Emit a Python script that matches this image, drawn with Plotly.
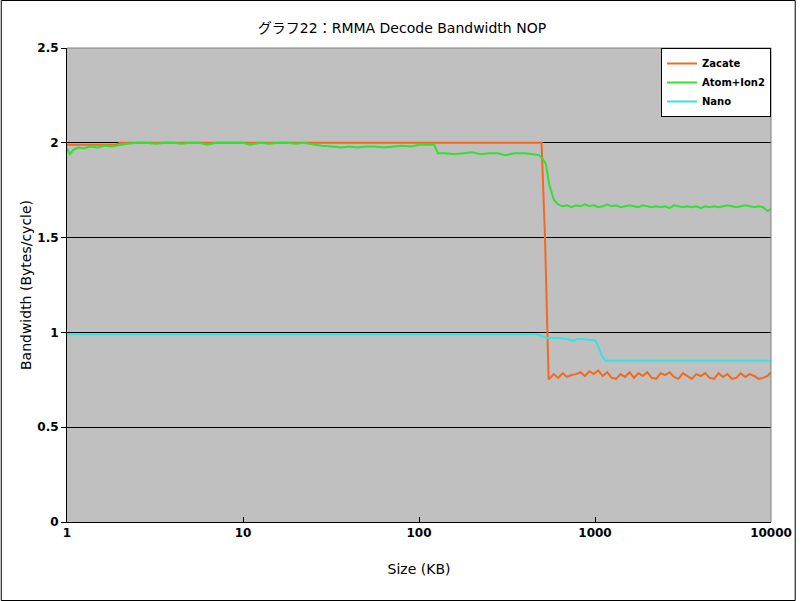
import plotly.graph_objects as go

# ---------------- data ----------------
TITLE = "グラフ22：RMMA Decode Bandwidth NOP"
X_TITLE = "Size (KB)"
Y_TITLE = "Bandwidth (Bytes/cycle)"
X_TICKS = [1, 10, 100, 1000, 10000]
X_TICK_TEXT = ["1", "10", "100", "1000", "10000"]
Y_TICKS = [0, 0.5, 1, 1.5, 2, 2.5]
Y_TICK_TEXT = ["0", "0.5", "1", "1.5", "2", "2.5"]

zacate_x = [1, 1.9, 2.0, 10, 100, 497, 520, 535, 545,
            550, 583, 618, 655, 694, 736, 780, 827, 877, 929,
            985, 1044, 1107, 1173, 1244, 1318, 1397, 1481, 1570, 1664,
            1764, 1870, 1982, 2101, 2227, 2360, 2502, 2652, 2811, 2980,
            3159, 3348, 3549, 3762, 3988, 4227, 4481, 4750, 5035, 5337,
            5657, 5996, 6356, 6737, 7142, 7570, 8025, 8506, 9017, 9558, 10000]
zacate_y = [1.99, 1.99, 2.0, 2.0, 2.0, 2.0, 1.5, 1.0, 0.755,
            0.755, 0.78, 0.76, 0.785, 0.765, 0.775, 0.78, 0.79, 0.77, 0.795,
            0.78, 0.80, 0.77, 0.79, 0.76, 0.755, 0.78, 0.765, 0.79, 0.76,
            0.785, 0.77, 0.79, 0.76, 0.755, 0.785, 0.775, 0.79, 0.765, 0.755,
            0.785, 0.77, 0.755, 0.78, 0.77, 0.785, 0.76, 0.755, 0.785, 0.765,
            0.78, 0.755, 0.76, 0.785, 0.765, 0.78, 0.77, 0.755, 0.76, 0.77, 0.79]

atom_x = [1, 1.04, 1.08, 1.15, 1.25, 1.35, 1.5, 1.65, 1.8, 2.0,
          2.2, 2.5, 2.8, 3.2, 3.6, 4, 4.5, 5, 5.6, 6.3,
          7, 8, 9, 10, 11, 12.5, 14, 16, 18, 20,
          22, 25, 28, 32, 36, 40, 45, 50, 56, 63,
          70, 80, 90, 100, 110, 118, 122, 128, 140, 160,
          180, 200, 225, 250, 280, 310, 350, 400, 440, 480,
          500, 525, 550, 583, 618, 655, 694, 736, 780, 827,
          877, 929, 985, 1044, 1107, 1173, 1244, 1318, 1397, 1481,
          1570, 1664, 1764, 1870, 1982, 2101, 2227, 2360, 2502, 2652,
          2811, 2980, 3159, 3348, 3549, 3762, 3988, 4227, 4481, 4750,
          5035, 5337, 5657, 5996, 6356, 6737, 7142, 7570, 8025, 8506,
          9017, 9558, 10000]
atom_y = [1.97, 1.94, 1.96, 1.975, 1.97, 1.98, 1.975, 1.985, 1.98, 1.99,
          1.995, 2.0, 2.0, 1.995, 2.0, 2.0, 1.995, 2.0, 2.0, 1.99,
          2.0, 2.0, 2.0, 2.0, 1.99, 2.0, 1.995, 2.0, 2.0, 1.995,
          2.0, 1.99, 1.985, 1.98, 1.975, 1.98, 1.975, 1.98, 1.98, 1.975,
          1.98, 1.985, 1.98, 1.99, 1.99, 1.99, 1.99, 1.945, 1.945, 1.94,
          1.945, 1.95, 1.94, 1.945, 1.945, 1.935, 1.945, 1.945, 1.94, 1.935,
          1.92, 1.89, 1.78, 1.70, 1.675, 1.665, 1.67, 1.66, 1.67, 1.665,
          1.675, 1.665, 1.67, 1.66, 1.665, 1.675, 1.665, 1.67, 1.66, 1.665,
          1.67, 1.665, 1.66, 1.67, 1.665, 1.66, 1.665, 1.66, 1.665, 1.655,
          1.67, 1.665, 1.66, 1.665, 1.66, 1.665, 1.655, 1.665, 1.66, 1.665,
          1.66, 1.665, 1.67, 1.665, 1.66, 1.665, 1.67, 1.665, 1.66, 1.665,
          1.66, 1.64, 1.65]

nano_x = [1, 10, 100, 300, 460, 500, 530, 620, 700, 750,
          790, 850, 920, 1000, 1040, 1090, 1150, 2000, 5000, 10000]
nano_y = [0.99, 0.99, 0.99, 0.99, 0.99, 0.98, 0.97, 0.97, 0.965, 0.955,
          0.965, 0.965, 0.96, 0.96, 0.93, 0.88, 0.85, 0.85, 0.85, 0.85]

assert len(zacate_x) == len(zacate_y)
assert len(atom_x) == len(atom_y)
assert len(nano_x) == len(nano_y)

SERIES = [
    ("Zacate", zacate_x, zacate_y, "#F26A1F"),
    ("Atom+Ion2", atom_x, atom_y, "#2FE32F"),
    ("Nano", nano_x, nano_y, "#36E3E3"),
]

# ---------------- figure ----------------
W, H = 804, 601
ML, MR, MT, MB = 67, 25, 48, 79
PW, PH = W - ML - MR, H - MT - MB
FONT = "DejaVu Sans, Noto Sans CJK JP"

fig = go.Figure()
for name, xs, ys, col in SERIES:
    fig.add_trace(go.Scatter(x=xs, y=ys, name=name, mode="lines",
                             line=dict(color=col, width=2)))

fig.update_layout(
    width=W, height=H,
    margin=dict(l=ML, r=MR, t=MT, b=MB, pad=0),
    paper_bgcolor="white",
    plot_bgcolor="#C0C0C0",
    font=dict(family=FONT, size=12, color="black"),
    title=dict(text=TITLE, x=0.5, xref="container", xanchor="center",
               y=1 - 28 / H, yref="container", yanchor="middle",
               font=dict(family=FONT, size=14, color="black")),
    showlegend=True,
    legend=dict(x=1, y=1, xanchor="right", yanchor="top",
                bgcolor="white", bordercolor="black", borderwidth=1,
                font=dict(family=FONT, size=10, color="black", weight="bold"),
                tracegroupgap=0, itemwidth=30, tracegroupgap_=None) if False else
           dict(x=1, y=1, xanchor="right", yanchor="top",
                bgcolor="white", bordercolor="black", borderwidth=1,
                font=dict(family=FONT, size=10, color="black", weight="bold"),
                tracegroupgap=0, itemwidth=30),
)

fig.update_xaxes(
    type="log", range=[0, 4],
    tickvals=X_TICKS, ticktext=X_TICK_TEXT,
    ticks="inside", ticklen=5, tickcolor="black",
    showline=True, linecolor="black", linewidth=1, mirror=False,
    showgrid=False, zeroline=False,
    tickfont=dict(family=FONT, size=12, color="black", weight="bold"),
    title=dict(text=X_TITLE, standoff=24,
               font=dict(family=FONT, size=14, color="black")),
)
fig.update_yaxes(
    range=[0, 2.5],
    tickvals=Y_TICKS, ticktext=Y_TICK_TEXT,
    ticks="outside", ticklen=5, tickcolor="black",
    showline=True, linecolor="black", linewidth=1, mirror=False,
    showgrid=True, gridcolor="black", gridwidth=1, zeroline=False,
    tickfont=dict(family=FONT, size=12, color="black", weight="bold"),
    title=dict(text=Y_TITLE, standoff=2,
               font=dict(family=FONT, size=14, color="black")),
)

# plot-area top/right border (gray) and outer chart border (black)
fig.add_shape(type="line", xref="paper", yref="paper", x0=0, x1=1, y0=1, y1=1,
              line=dict(color="#808080", width=1), layer="above")
fig.add_shape(type="line", xref="paper", yref="paper", x0=1, x1=1, y0=0, y1=1,
              line=dict(color="#808080", width=1), layer="above")
fig.add_shape(type="rect", xref="paper", yref="paper",
              x0=-(ML - 0.5) / PW, x1=1 + (MR - 0.5) / PW,
              y0=-(MB - 0.5) / PH, y1=1 + (MT - 0.5) / PH,
              line=dict(color="black", width=1), fillcolor="rgba(0,0,0,0)",
              layer="above")

fig.write_html("out.html")
